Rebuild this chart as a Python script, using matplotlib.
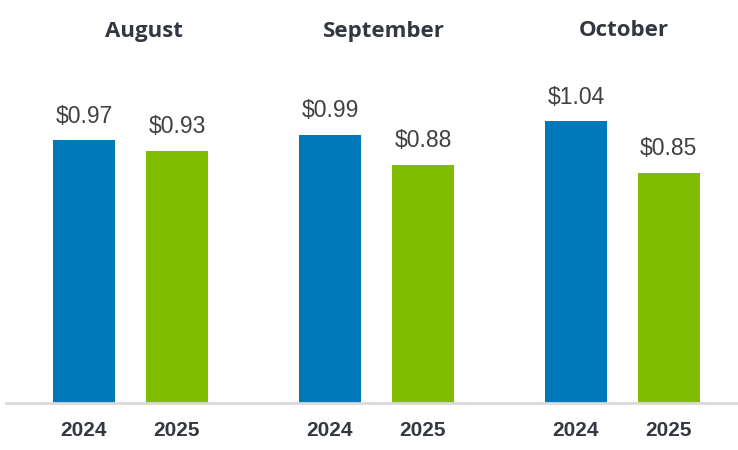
import matplotlib.pyplot as plt
import numpy as np

months = ["August", "September", "October"]
years = ["2024", "2025"]
values_2024 = [0.97, 0.99, 1.04]
values_2025 = [0.93, 0.88, 0.85]

BLUE = "#0079B8"
GREEN = "#80BC00"
DARK = "#333840"

# small horizontal nudge of the month titles (points), as in the original
title_dx = [10, 5.5, 0.7]


def main():
    fig = plt.figure(figsize=(7.38, 4.5), dpi=100)
    ax = fig.add_axes([6 / 738, 1 - 403 / 450, 1 - 6 / 738, 403 / 450])

    x = np.arange(len(months))
    off = 0.378 / 2
    width = 0.252
    b1 = ax.bar(x - off, values_2024, width, color=BLUE, zorder=2)
    b2 = ax.bar(x + off, values_2025, width, color=GREEN, zorder=2)

    for bars in (b1, b2):
        for rect in bars:
            h = rect.get_height()
            ax.annotate(
                f"${h:.2f}",
                (rect.get_x() + rect.get_width() / 2, h),
                xytext=(0, 9),
                textcoords="offset points",
                ha="center",
                va="bottom",
                fontsize=16.5,
                color="#404040",
                family=["Liberation Sans", "DejaVu Sans"],
            )

    ax.set_xlim(-0.506, 2.47)
    ax.set_ylim(0, 403 / 271)

    for i, m in enumerate(months):
        ax.annotate(
            m,
            (x[i], 1 - 31 / 403),
            xycoords=ax.get_xaxis_transform(),
            xytext=(title_dx[i], 0),
            textcoords="offset points",
            ha="center", va="center",
            fontsize=16, fontweight="bold", color=DARK,
            family=["Open Sans", "DejaVu Sans"],
        )
        for j, y in enumerate(years):
            ax.text(
                x[i] + (-off if j == 0 else off), -27 / 403, y,
                transform=ax.get_xaxis_transform(),
                ha="center", va="center",
                fontsize=15, fontweight="bold", color=DARK,
                family=["Liberation Sans Narrow", "Liberation Sans", "DejaVu Sans"],
            )

    for s in ["top", "right", "left"]:
        ax.spines[s].set_visible(False)
    ax.spines["bottom"].set_color("#D9D9D9")
    ax.spines["bottom"].set_linewidth(2)
    ax.set_xticks([])
    ax.set_yticks([])
    ax.patch.set_alpha(0)

    fig.savefig("out.png", dpi=100)


if __name__ == "__main__":
    main()
